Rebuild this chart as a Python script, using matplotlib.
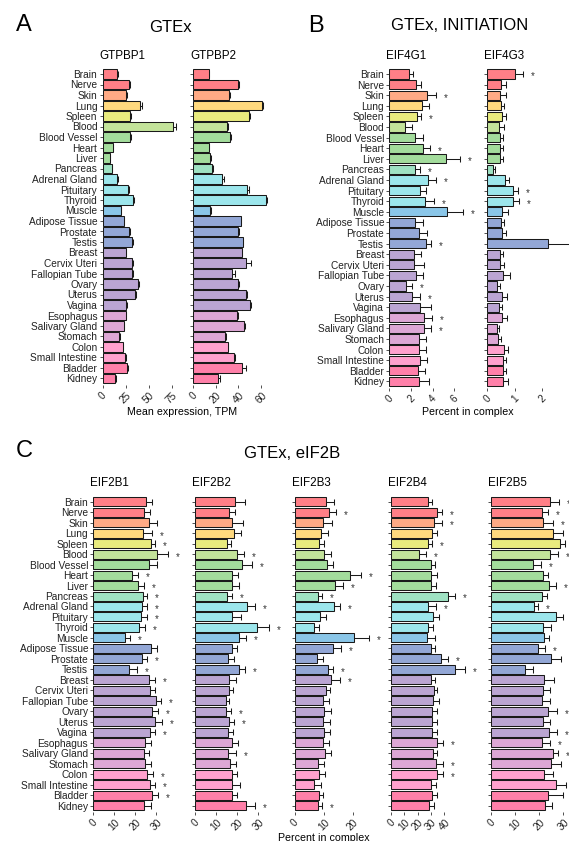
import numpy as np
import matplotlib
matplotlib.use("Agg")
import matplotlib.pyplot as plt

plt.rcParams['font.family'] = ['Liberation Sans', 'DejaVu Sans']

tissues = ["Brain", "Nerve", "Skin", "Lung", "Spleen", "Blood", "Blood Vessel",
           "Heart", "Liver", "Pancreas", "Adrenal Gland", "Pituitary", "Thyroid",
           "Muscle", "Adipose Tissue", "Prostate", "Testis", "Breast",
           "Cervix Uteri", "Fallopian Tube", "Ovary", "Uterus", "Vagina",
           "Esophagus", "Salivary Gland", "Stomach", "Colon", "Small Intestine",
           "Bladder", "Kidney"]

# panel A: mean expression, TPM
gtpbp1 = [16, 29, 26, 41, 30, 77, 30, 11, 8, 10, 16, 28, 33, 20, 23, 29, 32, 25,
          32, 32, 39, 35, 26, 25, 23, 18, 22, 24, 27, 14]
gtpbp1_se = [0.5, 1, 0.5, 1.5, 1, 3, 0.5, 0.5, 0.5, 0.5, 0.5, 0.5, 1, 0.5, 0.5, 1,
             1, 0.5, 1.5, 1.5, 1, 1, 1, 0.5, 0.5, 0.5, 0.5, 1, 1, 1]
gtpbp2 = [14, 40, 32, 61, 49, 30, 33, 14, 15, 17, 26, 48, 64, 15, 42, 40, 44, 43,
          47, 34, 40, 46.5, 50, 39, 45, 28.5, 30.5, 36, 43.5, 22]
gtpbp2_se = [0.3, 1, 0.5, 1, 1, 0.5, 0.5, 0.3, 1, 0.5, 1, 1, 1, 0.5, 0.5, 1, 0.5,
             0.5, 4, 3, 1, 1, 1, 0.5, 1, 0.5, 0.5, 1, 3.5, 2]

# panel B: percent in complex
eif4g1 = [1.85, 2.46, 3.48, 3.0, 2.56, 1.45, 2.4, 3.08, 5.2, 2.4, 3.6, 2.83, 3.3,
          5.36, 2.4, 2.71, 3.36, 2.31, 2.28, 2.46, 1.54, 2.13, 2.84, 3.23, 3.17,
          2.71, 2.71, 2.8, 2.68, 2.71]
eif4g1_se = [0.35, 0.44, 0.82, 0.7, 0.41, 0.65, 0.7, 0.72, 1.3, 0.4, 0.75, 0.52,
             0.86, 1.47, 0.7, 0.76, 0.51, 0.6, 0.92, 0.68, 0.56, 0.71, 1.0, 0.7,
             0.72, 0.66, 0.66, 0.72, 0.6, 0.96]
eif4g1_sig = ["Skin", "Spleen", "Heart", "Liver", "Pancreas", "Adrenal Gland",
              "Thyroid", "Muscle", "Testis", "Ovary", "Uterus", "Esophagus",
              "Salivary Gland"]
eif4g3 = [1.0, 0.51, 0.46, 0.49, 0.53, 0.42, 0.46, 0.46, 0.46, 0.19, 0.64, 0.94,
          0.92, 0.53, 0.50, 0.52, 2.22, 0.47, 0.47, 0.56, 0.36, 0.52, 0.43, 0.53,
          0.35, 0.39, 0.59, 0.56, 0.58, 0.56]
eif4g3_se = [0.31, 0.17, 0.22, 0.12, 0.15, 0.19, 0.12, 0.12, 0.12, 0.08, 0.16,
             0.18, 0.24, 0.24, 0.11, 0.16, 0.78, 0.11, 0.13, 0.26, 0.10, 0.18,
             0.10, 0.17, 0.08, 0.12, 0.18, 0.12, 0.10, 0.19]
eif4g3_sig = ["Brain", "Pituitary", "Thyroid", "Testis"]

# panel C: percent in complex
eif2b1 = [24.9, 24.1, 26.7, 23.8, 27.5, 30.2, 26.7, 18.6, 21.3, 23.5, 23.2, 22.9,
          21.6, 15.2, 27.5, 23.0, 16.9, 26.4, 27.2, 30.0, 28.1, 29.4, 26.9, 24.8,
          24.1, 24.5, 25.6, 26.9, 28.1, 24.1]
eif2b1_se = [3.2, 2.9, 3.8, 4.2, 2.0, 5.2, 3.5, 2.5, 2.8, 2.2, 2.5, 2.5, 3.2, 2.3,
             2.7, 2.7, 3.8, 3.0, 2.2, 2.1, 2.9, 3.2, 2.5, 2.8, 2.4, 2.8, 3.0, 2.3,
             2.9, 3.2]
eif2b1_sig = ["Lung", "Spleen", "Blood", "Heart", "Liver", "Pancreas",
              "Adrenal Gland", "Pituitary", "Thyroid", "Muscle", "Prostate",
              "Testis", "Breast", "Fallopian Tube", "Ovary", "Uterus", "Vagina",
              "Colon", "Small Intestine", "Bladder"]
eif2b2 = [19.2, 16.3, 17.8, 18.7, 15.1, 20.2, 22.5, 17.6, 17.6, 15.4, 24.6, 17.6,
          29.4, 21.1, 17.6, 15.6, 20.8, 16.3, 16.0, 14.8, 14.8, 16.0, 15.6, 17.8,
          15.9, 16.7, 17.6, 17.8, 17.5, 24.3]
eif2b2_se = [4.6, 2.6, 4.9, 3.1, 1.9, 3.1, 4.6, 2.9, 3.4, 2.1, 4.0, 4.2, 6.0, 3.0,
             2.6, 3.0, 3.0, 3.2, 2.3, 1.5, 2.2, 2.6, 2.4, 2.7, 3.6, 2.7, 2.6, 3.6,
             2.4, 4.4]
eif2b2_sig = ["Blood", "Blood Vessel", "Pancreas", "Adrenal Gland", "Thyroid",
              "Muscle", "Testis", "Ovary", "Uterus", "Salivary Gland", "Kidney"]
eif2b3 = [10.9, 11.9, 9.9, 9.1, 8.5, 10.1, 11.1, 19.0, 13.9, 8.0, 13.4, 8.8, 6.7,
          20.4, 13.1, 7.8, 11.4, 12.4, 10.7, 9.9, 10.2, 9.9, 10.0, 9.9, 10.4, 8.0,
          8.5, 6.7, 8.4, 8.0]
eif2b3_se = [2.7, 2.3, 3.1, 2.3, 1.5, 2.3, 2.2, 3.9, 2.7, 1.5, 2.2, 2.0, 1.7, 5.3,
             3.0, 2.1, 1.9, 3.2, 1.5, 2.0, 2.3, 2.2, 2.2, 2.0, 2.1, 2.1, 2.1, 2.2,
             1.5, 1.5]
eif2b3_sig = ["Nerve", "Heart", "Liver", "Pancreas", "Adrenal Gland", "Muscle",
              "Adipose Tissue", "Testis", "Breast", "Kidney"]
eif2b4 = [28.1, 34.8, 32.3, 30.6, 28.1, 21.3, 29.8, 30.1, 30.1, 42.6, 27.8, 31.8,
          27.8, 27.3, 29.8, 37.8, 47.9, 29.8, 32.3, 31.8, 30.8, 30.8, 30.8, 34.6,
          31.3, 34.1, 34.6, 29.8, 30.6, 28.6]
eif2b4_se = [3.0, 3.3, 6.3, 3.7, 2.5, 4.8, 3.5, 4.2, 3.9, 5.3, 6.0, 4.3, 4.0, 6.0,
             3.3, 5.3, 7.7, 3.5, 2.0, 4.3, 3.5, 3.5, 3.5, 4.5, 3.5, 4.7, 4.5, 4.0,
             4.2, 3.7]
eif2b4_sig = ["Nerve", "Skin", "Spleen", "Blood", "Pancreas", "Adrenal Gland",
              "Prostate", "Testis", "Esophagus", "Stomach", "Colon"]
eif2b5 = [24.5, 21.0, 21.4, 25.6, 28.6, 24.6, 17.5, 21.4, 24.2, 21.0, 17.9, 26.8,
          21.7, 22.1, 19.6, 25.0, 13.9, 22.0, 21.5, 21.3, 23.6, 21.5, 24.2, 21.1,
          25.6, 24.7, 22.0, 27.0, 23.5, 22.5]
eif2b5_se = [3.8, 2.5, 4.4, 4.4, 2.1, 3.3, 3.2, 2.4, 2.8, 2.4, 1.7, 2.9, 3.2, 2.1,
             2.8, 3.9, 3.3, 4.1, 2.9, 3.3, 3.6, 2.9, 3.0, 3.3, 2.3, 4.2, 3.8, 4.0,
             6.2, 2.9]
eif2b5_sig = ["Brain", "Nerve", "Skin", "Blood", "Blood Vessel", "Liver",
              "Adrenal Gland", "Adipose Tissue", "Prostate", "Ovary", "Vagina",
              "Esophagus", "Salivary Gland", "Stomach"]

# one colour per tissue (tissue groups)
tissue_colors = ["#FF7F87", "#FF7F87", "#FFAA85", "#FFD97E", "#E9EB7E", "#C3E39A",
                 "#A3DC9C", "#A3DC9C", "#A3DC9C", "#9FE2C3", "#9CE6EC", "#9CE6EC",
                 "#9CE6EC", "#8AC6E8", "#93A7D6", "#93A7D6", "#93A7D6", "#BBA5D3",
                 "#BBA5D3", "#BBA5D3", "#BBA5D3", "#BBA5D3", "#BBA5D3", "#DDA7D5",
                 "#DDA7D5", "#DDA7D5", "#FFA1CD", "#FFA1CD", "#FF80A9", "#FF80A9"]

W, H = 569, 841
fig = plt.figure(figsize=(W / 100, H / 100), dpi=100)
INK = "#1a1a1a"


def px_axes(left, top, width, height):
    return fig.add_axes([left / W, 1 - (top + height) / H, width / W, height / H])


def draw_gene(left, top, row_h, scale, title, title_y, values, se, sig, xticks,
              show_labels):
    width = 92
    n = len(tissues)
    ax = px_axes(left, top - 0.6 * row_h, width, (n + 0.2) * row_h)
    y = np.arange(n)
    values = np.asarray(values, float)
    ends = values + np.asarray(se, float)
    ax.hlines(y, values, ends, color=INK, lw=0.75, zorder=1)
    ax.vlines(ends, y - 0.3, y + 0.3, color=INK, lw=0.75, zorder=1)
    ax.barh(y, values, height=0.86, color=tissue_colors, edgecolor=INK,
            linewidth=0.75, zorder=2)
    for name in sig:
        i = tissues.index(name)
        ax.annotate("*", (ends[i], i), xytext=(7, -1.8), textcoords="offset points",
                    ha="center", va="center", fontsize=7, color="#333333",
                    annotation_clip=False)
    ax.set_xlim(0, width / scale)
    ax.set_ylim(n - 0.4, -0.6)
    for s in ax.spines.values():
        s.set_visible(False)
    ax.set_yticks(y)
    ax.set_yticklabels(tissues if show_labels else [""] * n)
    ax.set_xticks(xticks)
    ax.set_xticklabels([str(t) for t in xticks], rotation=45, ha="center")
    ax.tick_params(axis="both", length=2.2, width=0.6, color="#333333",
                   labelsize=7.3, labelcolor="#222222", pad=1.5)
    fig.text((left - 3) / W, 1 - title_y / H, title, fontsize=8.4,
             ha="left", va="center")
    return ax


# panel A
draw_gene(102.5, 74, 10.5, 0.92, "GTPBP1", 56, gtpbp1, gtpbp1_se, [],
          [0, 25, 50, 75], True)
draw_gene(193, 74, 10.5, 1.133, "GTPBP2", 56, gtpbp2, gtpbp2_se, [],
          [0, 20, 40, 60], False)

# panel B
draw_gene(389.3, 74, 10.6, 10.83, "EIF4G1", 56, eif4g1, eif4g1_se, eif4g1_sig,
          [0, 2, 4, 6], True)
draw_gene(487.3, 74, 10.6, 27.5, "EIF4G3", 56, eif4g3, eif4g3_se, eif4g3_sig,
          [0, 1, 2], False)

# panel C
c_genes = [("EIF2B1", eif2b1, eif2b1_se, eif2b1_sig, [0, 10, 20, 30]),
           ("EIF2B2", eif2b2, eif2b2_se, eif2b2_sig, [0, 10, 20, 30]),
           ("EIF2B3", eif2b3, eif2b3_se, eif2b3_sig, [0, 10, 20]),
           ("EIF2B4", eif2b4, eif2b4_se, eif2b4_sig, [0, 10, 20, 30, 40]),
           ("EIF2B5", eif2b5, eif2b5_se, eif2b5_sig, [0, 10, 20, 30])]
c_left = [93.3, 195, 294.7, 391, 491.3]
c_scale = [2.1, 2.1, 2.9, 1.33, 2.4]
for k, (name, vals, errs, sig, ticks) in enumerate(c_genes):
    draw_gene(c_left[k], 501.7, 10.48, c_scale[k], name, 483.3, vals, errs, sig,
              ticks, k == 0)

# panel letters and headings
fig.text(16 / W, 1 - 25 / H, "A", fontsize=17, ha="left", va="center")
fig.text(170 / W, 1 - 27 / H, "GTEx", fontsize=12, ha="center", va="center")
fig.text(308 / W, 1 - 25.5 / H, "B", fontsize=17, ha="left", va="center")
fig.text(460 / W, 1 - 26 / H, "GTEx, INITIATION", fontsize=12, ha="center",
         va="center")
fig.text(16 / W, 1 - 451 / H, "C", fontsize=17, ha="left", va="center")
fig.text(292 / W, 1 - 453 / H, "GTEx, eIF2B", fontsize=12, ha="center",
         va="center")

fig.text(182 / W, 1 - 411.5 / H, "Mean expression, TPM", fontsize=7.7,
         ha="center", va="center")
fig.text(468 / W, 1 - 412 / H, "Percent in complex", fontsize=7.7,
         ha="center", va="center")
fig.text(324 / W, 1 - 838 / H, "Percent in complex", fontsize=7.7,
         ha="center", va="center")

fig.savefig("out.png", dpi=100)
